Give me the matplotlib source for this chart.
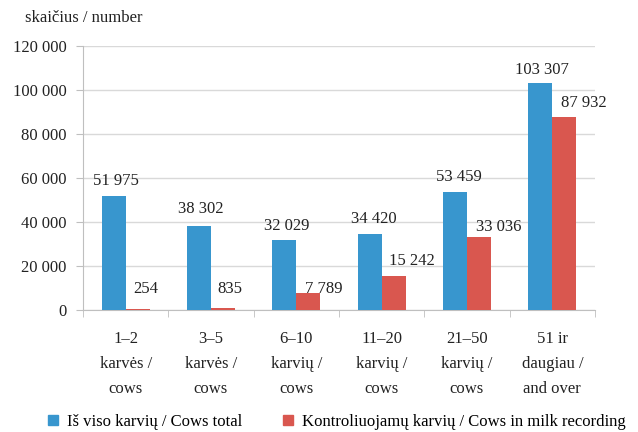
import matplotlib.pyplot as plt
from matplotlib.patches import Patch
import numpy as np

plt.rcParams['font.family'] = ['Liberation Serif', 'DejaVu Serif']

# data
categories = ["1–2\nkarvės /\ncows", "3–5\nkarvės /\ncows", "6–10\nkarvių /\ncows",
              "11–20\nkarvių /\ncows", "21–50\nkarvių /\ncows", "51 ir\ndaugiau /\nand over"]
cows_total = [51975, 38302, 32029, 34420, 53459, 103307]
cows_recorded = [254, 835, 7789, 15242, 33036, 87932]
series_names = ["Iš viso karvių / Cows total", "Kontroliuojamų karvių / Cows in milk recording"]
yticks = [0, 20000, 40000, 60000, 80000, 100000, 120000]

# label offsets in pixels (dx, dy), as placed in the original
blue_off = [(2, 15), (2, 17), (2, 14), (4, 15), (4, 15), (2, 13)]
red_off = [(8, 20), (7, 19), (15, 4), (18, 15), (20, 10), (20, 14)]

blue = "#3896CE"
red = "#D9574F"
FS = 12

def fmt(v):
    return f"{v:,}".replace(",", " ")

fig = plt.figure(figsize=(6.38, 4.32), dpi=100)
ax = fig.add_axes([83 / 638, 122 / 432, 512 / 638, 264 / 432])

x = np.arange(len(categories))
w = 0.28
b1 = ax.bar(x - w / 2, cows_total, w, color=blue, zorder=3)
b2 = ax.bar(x + w / 2, cows_recorded, w, color=red, zorder=3)

for rect, v, (dx, dy) in zip(b1, cows_total, blue_off):
    ax.annotate(fmt(v), (rect.get_x() + rect.get_width() / 2, v), xytext=(dx, dy),
                textcoords="offset pixels", ha="center", va="center", fontsize=FS, color="#222222")
for rect, v, (dx, dy) in zip(b2, cows_recorded, red_off):
    ax.annotate(fmt(v), (rect.get_x() + rect.get_width() / 2, v), xytext=(dx, dy),
                textcoords="offset pixels", ha="center", va="center", fontsize=FS, color="#222222")

ax.set_xlim(-0.5, len(categories) - 0.5)
ax.set_ylim(0, 120000)
ax.set_yticks(yticks)
ax.set_yticklabels([fmt(t) for t in yticks], fontsize=FS, color="#222222")
ax.yaxis.grid(True, color="#D9D9D9", linewidth=1, zorder=0)

ax.set_xticks(x)
ax.set_xticklabels(categories, fontsize=FS, color="#222222", linespacing=1.75)
ax.set_xticks(np.arange(len(categories) + 1) - 0.5, minor=True)
ax.tick_params(axis="x", which="major", length=0, pad=15)
ax.tick_params(axis="x", which="minor", length=5, color="#BFBFBF")
ax.tick_params(axis="y", length=5, color="#BFBFBF", pad=7)

for s in ["top", "right"]:
    ax.spines[s].set_visible(False)
ax.spines["left"].set_color("#BFBFBF")
ax.spines["bottom"].set_color("#BFBFBF")

fig.text(25 / 638, 1 - 18 / 432, "skaičius / number", fontsize=FS, va="center", ha="left", color="#222222")

handles = [Patch(color=blue), Patch(color=red)]
fig.legend(handles, series_names, loc="center", bbox_to_anchor=(0.528, 10 / 432), ncol=2,
           frameon=False, fontsize=FS, handlelength=0.6, handleheight=0.6, handletextpad=0.5,
           columnspacing=2.5, borderaxespad=0)

fig.savefig("out.png", dpi=100)
